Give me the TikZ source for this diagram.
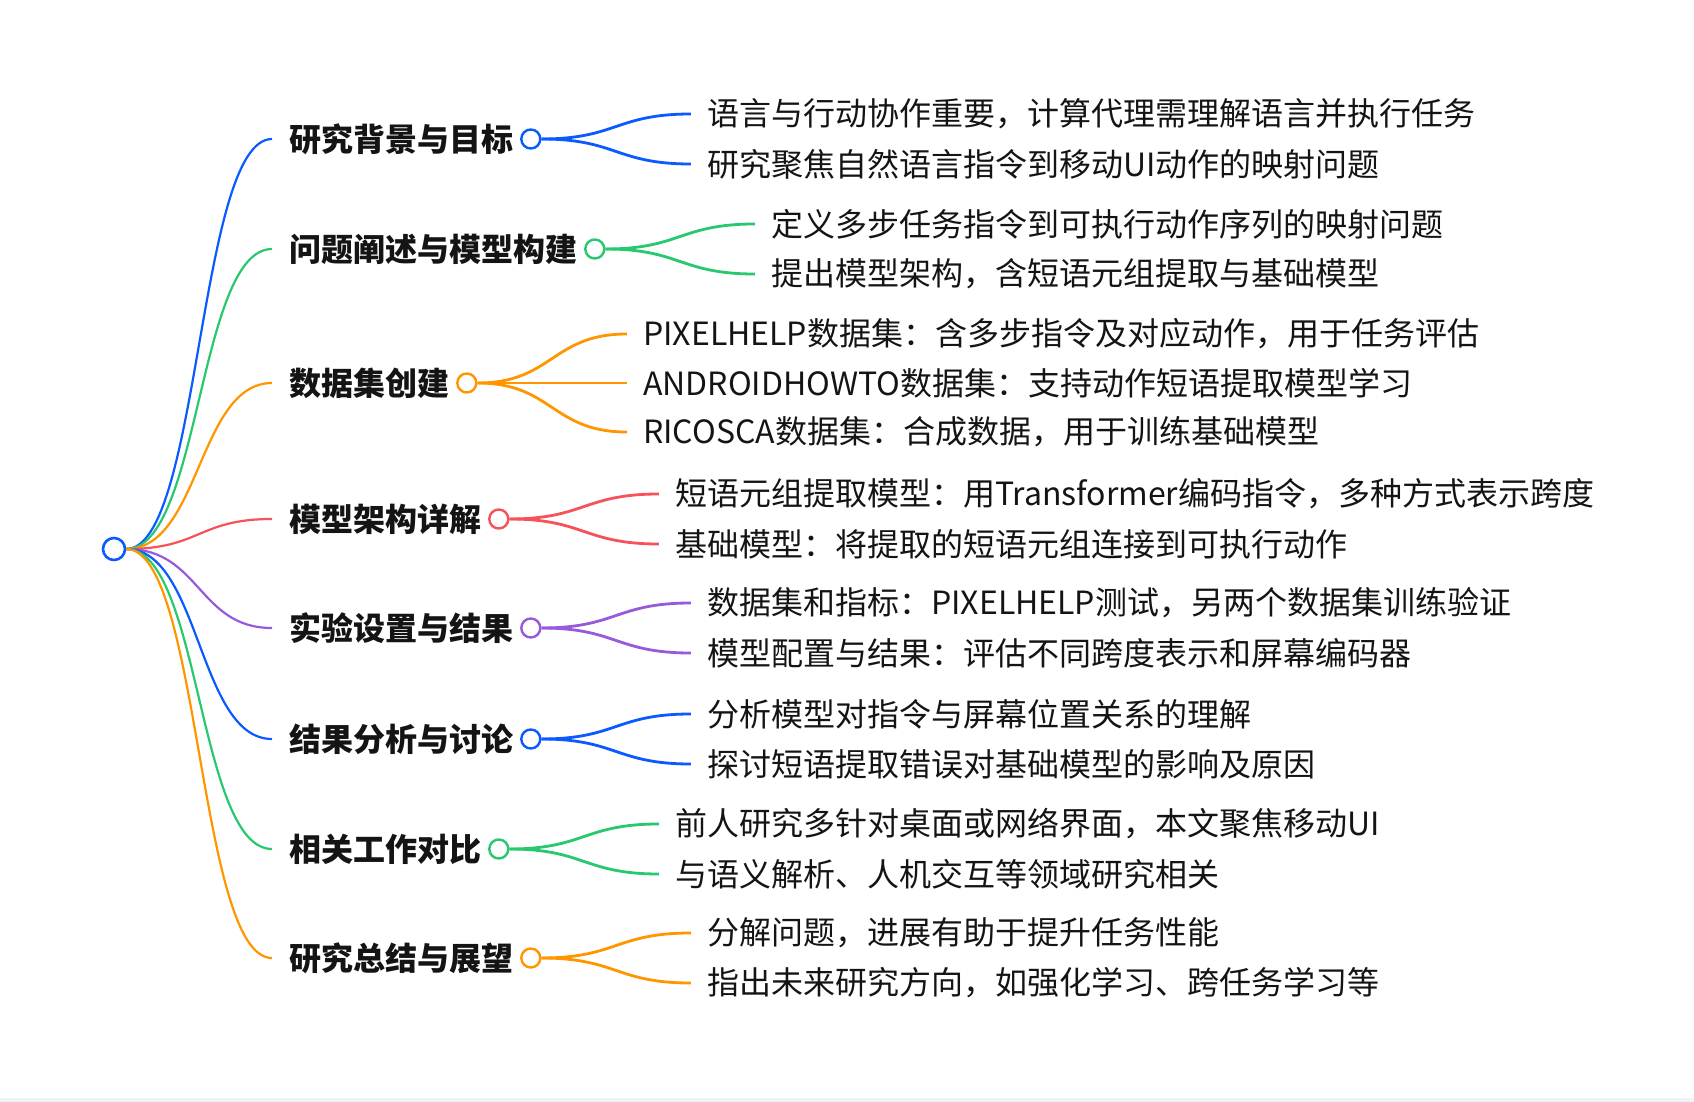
\documentclass[tikz,border=0pt]{standalone}
\usepackage{fontspec}
\setmainfont{Noto Sans CJK SC}
\definecolor{mblue}{RGB}{10,90,255}
\definecolor{mgreen}{RGB}{40,200,110}
\definecolor{morange}{RGB}{255,150,0}
\definecolor{mred}{RGB}{245,82,90}
\definecolor{mpurple}{RGB}{150,90,220}
\definecolor{stripe}{RGB}{238,243,249}
\tikzset{
  branch/.style={anchor=west,inner xsep=8.5pt,inner ysep=0pt,text=black!92,font=\bfseries\fontsize{16}{19}\selectfont},
  leaf/.style={anchor=west,inner xsep=8pt,inner ysep=0pt,text=black!92,font=\fontsize{16}{19}\selectfont},
  dot/.style={circle,draw=#1,fill=white,line width=1.2pt,minimum size=9.5pt,inner sep=0pt},
  stem/.style={line width=1.1pt},
  twig/.style={line width=1.4pt}
}
\begin{document}
\begin{tikzpicture}[x=0.5pt,y=-0.5pt]
  \useasboundingbox (0,0) rectangle (1694,1102);
  \fill[stripe] (0,1098) rectangle (1694,1102);
  \node[dot=mblue,minimum size=11pt,line width=1.3pt] (root) at (114,549) {};
  \foreach \i/\y/\c/\t in {1/139/mblue/研究背景与目标,2/249/mgreen/问题阐述与模型构建,3/383/morange/数据集创建,4/519/mred/模型架构详解,5/628/mpurple/实验设置与结果,6/739/mblue/结果分析与讨论,7/849/mgreen/相关工作对比,8/958/morange/研究总结与展望}
  {
    \node[branch] (b\i) at (272,\y) {\t};
    \draw[stem,\c] (root.east) .. controls +(74,0) and +(-74,0) .. (b\i.west);
    \node[dot=\c] (d\i) at (b\i.east) {};
  }
  \foreach \i/\j/\dy/\c/\t in {1/1/-25/mblue/语言与行动协作重要，计算代理需理解语言并执行任务,1/2/25/mblue/研究聚焦自然语言指令到移动UI动作的映射问题,
    2/1/-25/mgreen/定义多步任务指令到可执行动作序列的映射问题,2/2/25/mgreen/提出模型架构，含短语元组提取与基础模型,
    3/1/-49/morange/PIXELHELP数据集：含多步指令及对应动作，用于任务评估,3/2/0/morange/ANDROIDHOWTO数据集：支持动作短语提取模型学习,3/3/49/morange/RICOSCA数据集：合成数据，用于训练基础模型,
    4/1/-25/mred/短语元组提取模型：用Transformer编码指令，多种方式表示跨度,4/2/25/mred/基础模型：将提取的短语元组连接到可执行动作,
    5/1/-25/mpurple/数据集和指标：PIXELHELP测试，另两个数据集训练验证,5/2/25/mpurple/模型配置与结果：评估不同跨度表示和屏幕编码器,
    6/1/-25/mblue/分析模型对指令与屏幕位置关系的理解,6/2/25/mblue/探讨短语提取错误对基础模型的影响及原因,
    7/1/-25/mgreen/前人研究多针对桌面或网络界面，本文聚焦移动UI,7/2/25/mgreen/与语义解析、人机交互等领域研究相关,
    8/1/-25/morange/分解问题，进展有助于提升任务性能,8/2/25/morange/指出未来研究方向，如强化学习、跨任务学习等}
  {
    \node[leaf] (l\i\j) at ([shift={(160,\dy)}]d\i.center) {\t};
    \draw[twig,\c] (d\i.east) .. controls +(75,0) and +(-75,0) .. (l\i\j.west);
  }
\end{tikzpicture}
\end{document}
